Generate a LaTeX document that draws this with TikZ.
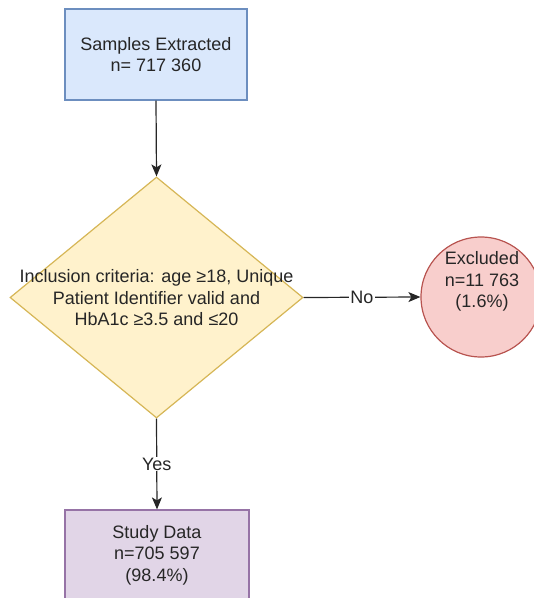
\documentclass[tikz,border=0pt]{standalone}
\usepackage{fontspec}
\setmainfont{Liberation Sans}
\usetikzlibrary{shapes.geometric,arrows.meta}
\definecolor{bluefill}{HTML}{DAE8FC}
\definecolor{bluedraw}{HTML}{6C8EBF}
\definecolor{yelfill}{HTML}{FFF2CC}
\definecolor{yeldraw}{HTML}{D6B656}
\definecolor{redfill}{HTML}{F8CECC}
\definecolor{reddraw}{HTML}{B85450}
\definecolor{purfill}{HTML}{E1D5E7}
\definecolor{purdraw}{HTML}{9673A6}
\tikzset{
  txt/.style={font=\fontsize{18}{21.5}\selectfont, align=center, text=black!85},
  boxblue/.style={draw=bluedraw, fill=bluefill, line width=1.2pt, minimum width=182pt, minimum height=91pt, inner sep=0pt},
  boxpur/.style={draw=purdraw, fill=purfill, line width=1.2pt, minimum width=184pt, minimum height=90pt, inner sep=0pt},
  dia/.style={diamond, draw=yeldraw, fill=yelfill, line width=1.2pt, minimum width=293pt, minimum height=241pt, inner sep=0pt},
  circ/.style={circle, draw=reddraw, fill=redfill, line width=1.2pt, minimum size=120pt, inner sep=0pt},
  conn/.style={draw=black!85, line width=1.2pt, -{Stealth[length=12pt,width=10pt,inset=3pt]}},
  lbl/.style={font=\fontsize{18}{21.5}\selectfont, fill=white, inner sep=1pt, text=black!85}
}
\begin{document}
\begin{tikzpicture}[x=1pt,y=-1pt]
\useasboundingbox (0,0) rectangle (534,598);
\clip (0,0) rectangle (534,598);
\node[boxblue, txt] (top) at (156,54.5) {Samples Extracted\\n= 717 360};
\node[dia] (dec) at (156.5,297.5) {};
\node[txt] (dectext) at (156.5,298) {Inclusion criteria: age ≥18, Unique\\Patient Identifier valid and\\HbA1c ≥3.5 and ≤20};
\node[circ] (exc) at (481,297) {};
\node[txt] (exctext) at (482,281.5) {Excluded\\n=11 763\\(1.6\%)};
\node[boxpur, txt] (study) at (157,555) {Study Data\\n=705 597\\(98.4\%)};
\draw[conn] (top.south) -- (dec.north);
\draw[conn] (dec.east) -- node[lbl] (nolbl) {No} (exc.west);
\draw[conn] (dec.south) -- node[lbl] (yeslbl) {Yes} (study.north);
\end{tikzpicture}
\end{document}
